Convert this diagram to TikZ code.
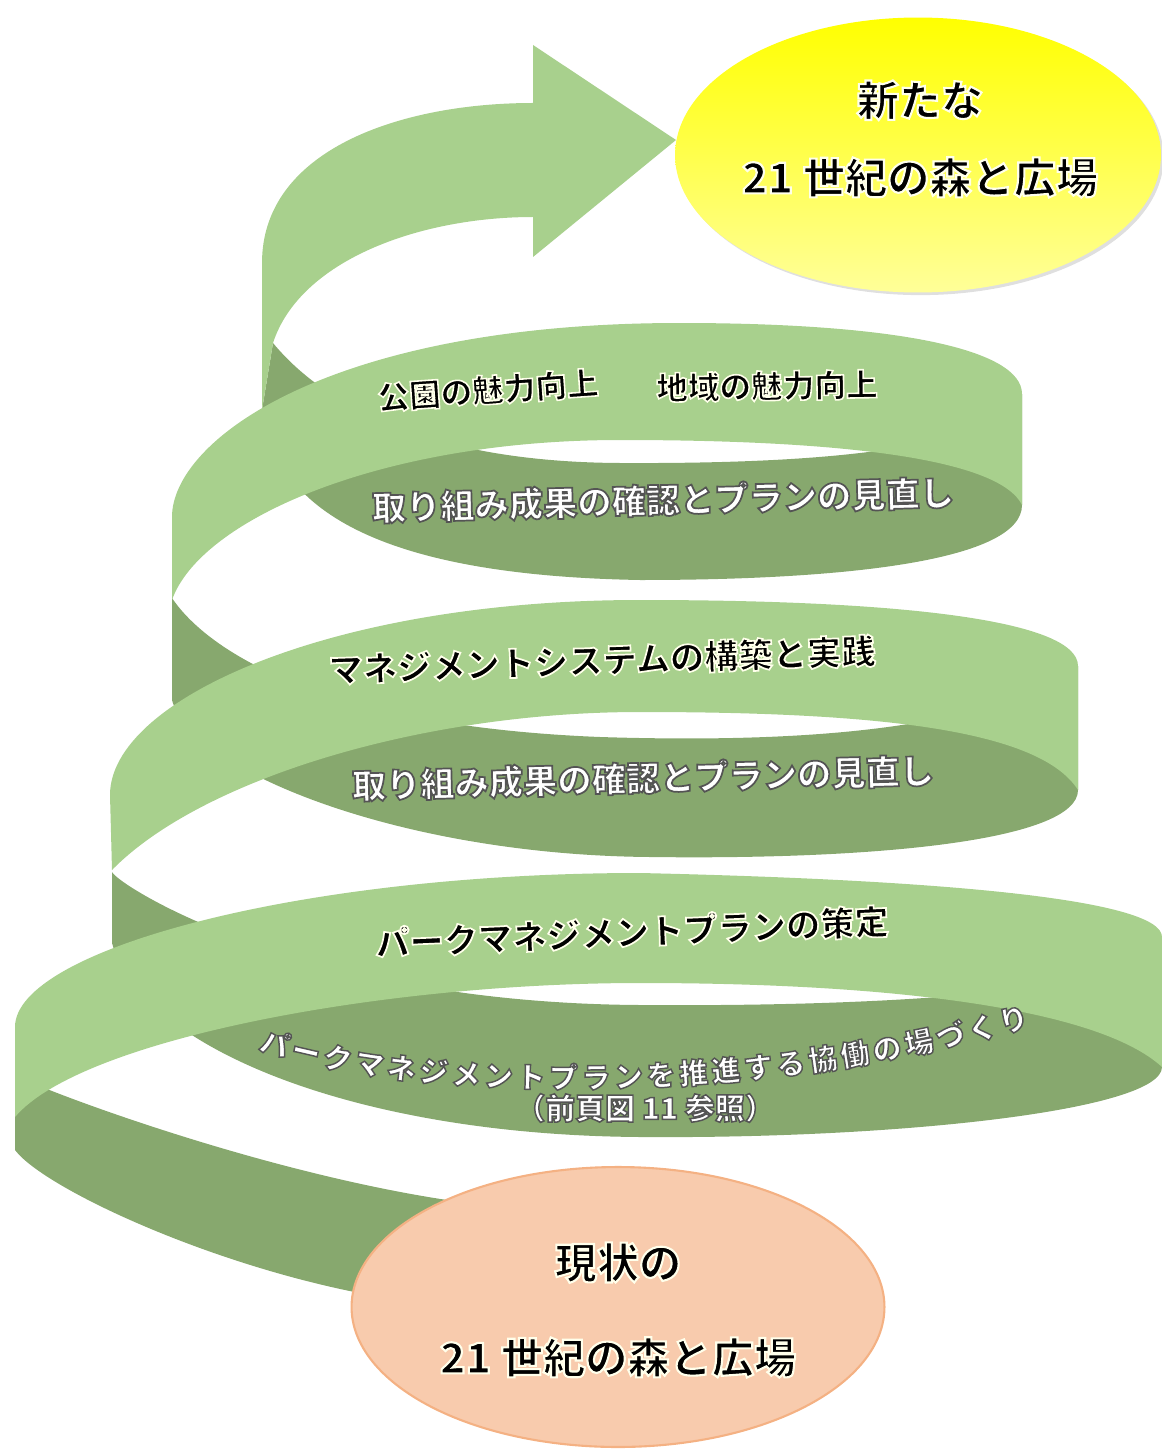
\documentclass[tikz,border=0pt]{standalone}
\usepackage{fontspec}
\newfontfamily\jp{Noto Sans CJK JP}
\newfontfamily\jpfx[BoldFeatures={FakeBold=5}]{Noto Sans CJK JP}
\usetikzlibrary{shapes.geometric,decorations.text,shadows}
\definecolor{leaf}{HTML}{A8D08D}
\definecolor{leafdark}{HTML}{87A86E}
\definecolor{peach}{HTML}{F8CBAD}
\definecolor{peachline}{HTML}{F4B183}
\newcommand\rimtxt[1]{{\color{white}\special{pdf:literal direct 0.33 0.33 0.33 RG}\jpfx\bfseries #1}}
\newcommand\glowtxt[1]{{\color{black}\special{pdf:literal direct 1 1 0.92 RG}\jpfx\bfseries #1}}
\newcommand\rimchar[1]{{\special{pdf:literal direct 0.33 0.33 0.33 RG}#1}}

\begin{document}
\begin{tikzpicture}[x=0.02cm, y=-0.02cm,
    front/.style={fill=leaf},
    back/.style={fill=leafdark},
    bandtext/.style={font=\jp\fontsize{19.5}{19.5}\selectfont, inner sep=0pt},
    goaltext/.style={font=\jp\fontsize{24}{44}\selectfont, align=center, inner sep=0pt}]
  \useasboundingbox (0,0) rectangle (1161,1449);

  % back side of the spiral
  \fill[back] (15,1075) .. controls (30,1085) and (250,1170) .. (447,1200) -- (520,1212) -- (470,1302) -- (400,1300) .. controls (230,1275) and (45,1190) .. (15,1150) -- cycle;
  \fill[back] (112,872) .. controls (118,885) and (300,1003) .. (640,1005) .. controls (900,1007) and (1162,990) .. (1162,937) -- (1162,1067) .. controls (1162,1110) and (900,1139) .. (640,1137) .. controls (350,1135) and (140,1045) .. (112,943) -- cycle;
  \fill[back] (172,598) .. controls (200,640) and (300,725) .. (600,737) .. controls (850,745) and (1000,720) .. (1078,666) -- (1078,790) .. controls (1078,840) and (880,860) .. (650,857) .. controls (400,855) and (190,770) .. (172,700) -- cycle;
  \fill[back] (273,343) .. controls (320,400) and (420,462) .. (620,463) .. controls (820,464) and (990,450) .. (1022,394) -- (1022,505) .. controls (1022,560) and (850,580) .. (640,580) .. controls (360,575) and (275,500) .. (262,410) -- cycle;

  % front side of the spiral
  \fill[front] (15,1027) .. controls (15,950) and (300,873) .. (640,873) .. controls (950,880) and (1162,900) .. (1162,937) -- (1162,1067) .. controls (1100,1010) and (900,983) .. (640,983) .. controls (380,983) and (80,1040) .. (15,1117) -- cycle;
  \fill[front] (110,795) .. controls (110,700) and (330,600) .. (640,600) .. controls (900,600) and (1078,620) .. (1078,666) -- (1078,790) .. controls (1040,730) and (880,712) .. (640,712) .. controls (420,712) and (200,780) .. (112,870) -- cycle;
  \fill[front] (172,517) .. controls (172,440) and (330,323) .. (680,323) .. controls (900,323) and (1022,350) .. (1022,394) -- (1022,505) .. controls (1000,460) and (850,440) .. (620,440) .. controls (380,440) and (200,520) .. (172,600) -- cycle;
  \fill[front] (262,410) -- (262,263) .. controls (262,150) and (400,103) .. (533,103) -- (533,45) -- (676,140) -- (533,257) -- (533,217) .. controls (420,217) and (300,260) .. (273,343) -- cycle;

  \node[ellipse, minimum width=9.72cm, minimum height=5.5cm, top color=yellow, bottom color=yellow!40!white,
    drop shadow={shadow xshift=1.5pt, shadow yshift=-1.5pt, opacity=0.25}] (goal) at (918,155) {};
  \node[ellipse, minimum width=10.66cm, minimum height=5.6cm, fill=peach, draw=peachline, line width=1.2pt] (now) at (618,1307) {};

  \node[goaltext] (goaltxt) at (920,139) {\glowtxt{新たな}\\\glowtxt{21 世紀の森と広場}};
  \node[goaltext, font=\jp\fontsize{24}{54}\selectfont] (nowtxt) at (618,1310) {\glowtxt{現状の}\\\glowtxt{21 世紀の森と広場}};

  \node[bandtext, font=\jp\fontsize{18}{18}\selectfont, rotate=4] (park) at (488,390) {\glowtxt{公園の魅力向上}};
  \node[bandtext, font=\jp\fontsize{18}{18}\selectfont, rotate=1] (area) at (767,386) {\glowtxt{地域の魅力向上}};
  \node[bandtext, rotate=1.5] (check1) at (663,500) {\rimtxt{取り組み成果の確認とプランの見直し}};
  \node[bandtext, rotate=2] (system) at (602,660) {\glowtxt{マネジメントシステムの構築と実践}};
  \node[bandtext, rotate=1.5] (check2) at (643,778) {\rimtxt{取り組み成果の確認とプランの見直し}};
  \node[bandtext, rotate=2.5] (plan) at (632,932) {\glowtxt{パークマネジメントプランの策定}};
  \path[decorate, decoration={text effects along path,
      text={パークマネジメントプランを推進する協働の場づくり},
      text effects/.cd, text along path, fit text to path,
      characters={font=\jpfx\bfseries\fontsize{16.5}{16.5}\selectfont, text=white, inner sep=0pt, text depth=0pt},
      character command=\rimchar}]
    (258,1050) .. controls (455,1112) and (800,1095) .. (1030,1026);
  \node[bandtext, font=\jp\fontsize{17}{17}\selectfont] (ref) at (645,1108) {\rimtxt{（前頁図 11 参照）}};
\end{tikzpicture}
\end{document}
